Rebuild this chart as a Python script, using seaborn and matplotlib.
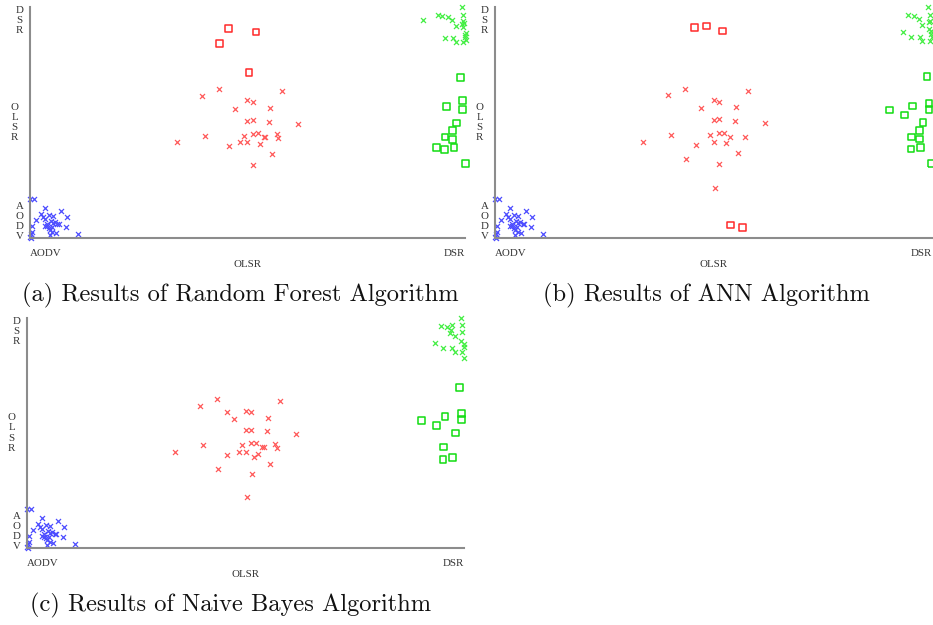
import numpy as np
import pandas as pd
import matplotlib
matplotlib.use("Agg")
import matplotlib.pyplot as plt
import seaborn as sns

# Weka-style classifier error plots: x = actual protocol, y = predicted (jittered)
classes = ["AODV", "OLSR", "DSR"]

# AODV points (correct), same in all three panels
aodv_x = [0.0, 0.02, 0.069, 0.143, 0.049, 0.089, 0.104, 0.06, 0.069, 0.028, 0.169, 0.095,
          0.115, 0.126, 0.132, 0.107, 0.067, 0.08, 0.089, 0.1, 0.166, 0.009, 0.092, 0.103,
          0.118, 0.008, 0.003, 0.092, 0.221, 0.0, 0.003, 0.077]
aodv_y = [0.34, 0.337, 0.262, 0.233, 0.21, 0.196, 0.19, 0.184, 0.167, 0.153, 0.184, 0.144,
          0.135, 0.124, 0.124, 0.127, 0.104, 0.1, 0.086, 0.092, 0.095, 0.104, 0.072, 0.049,
          0.046, 0.052, 0.035, 0.026, 0.032, 0.009, 0.0, 0.124]

# (a) Random Forest
rf_olsr_x = [0.869, 0.789, 1.159, 0.999, 1.024, 0.944, 1.103, 0.999, 1.024, 1.099, 1.234, 0.806, 0.984,
             1.024, 1.047, 1.077, 1.080, 1.134, 1.142, 0.676, 0.967, 0.999, 0.916, 1.059, 1.111, 1.027]
rf_olsr_y = [1.289, 1.232, 1.269, 1.191, 1.174, 1.117, 1.125, 1.016, 1.024, 1.007, 0.987, 0.886, 0.886,
             0.904, 0.909, 0.878, 0.872, 0.904, 0.866, 0.829, 0.829, 0.829, 0.8, 0.814, 0.728, 0.636]
rf_olsr_err_x = [0.913, 1.039, 0.872, 1.007]
rf_olsr_err_y = [1.816, 1.784, 1.681, 1.433]
rf_dsr_x = [1.985, 1.992, 1.874, 1.894, 1.922, 1.942, 1.808, 1.991, 1.995, 1.985, 1.957, 1.989, 2.005,
            2.002, 1.998, 1.906, 1.943, 1.959, 1.992, 2.005]
rf_dsr_y = [2.0, 1.928, 1.928, 1.922, 1.917, 1.888, 1.888, 1.876, 1.865, 1.856, 1.836, 1.827, 1.776,
            1.758, 1.741, 1.729, 1.735, 1.698, 1.701, 1.718]
rf_dsr_err_x = [1.98, 1.989, 1.914, 1.989, 1.962, 1.943, 1.908, 1.943, 1.87, 1.905, 1.949, 2.002]
rf_dsr_err_y = [1.39, 1.188, 1.137, 1.111, 0.996, 0.929, 0.875, 0.852, 0.783, 0.765, 0.783, 0.645]

# (b) ANN
ann_olsr_x = [0.870, 0.791, 1.157, 1.0, 1.023, 0.944, 1.102, 1.0, 1.023, 1.099, 1.234, 0.806, 0.983,
              1.023, 1.046, 1.075, 1.142, 0.676, 1.0, 1.058, 0.918, 1.110, 0.873, 1.026, 1.008]
ann_olsr_y = [1.293, 1.238, 1.276, 1.195, 1.180, 1.123, 1.131, 1.022, 1.027, 1.013, 0.993, 0.892, 0.892,
              0.906, 0.912, 0.877, 0.872, 0.834, 0.834, 0.820, 0.805, 0.733, 0.681, 0.641, 0.436]
ann_olsr_err_x = [0.913, 0.968, 1.040, 1.078, 1.134]
ann_olsr_err_y = [1.821, 1.835, 1.792, 0.113, 0.092]
ann_dsr_x = [1.982, 1.989, 1.892, 1.919, 1.940, 1.989, 1.985, 1.956, 1.986, 1.869, 1.902, 1.944,
             1.956, 1.989, 1.997, 2.0, 1.995]
ann_dsr_y = [2.0, 1.934, 1.928, 1.922, 1.893, 1.879, 1.873, 1.844, 1.807, 1.786, 1.737, 1.740,
             1.709, 1.709, 1.769, 1.740, 1.795]
ann_dsr_err_x = [1.977, 1.806, 1.873, 1.911, 1.986, 1.986, 1.959, 1.942, 1.907, 1.942, 1.947, 1.904, 1.995]
ann_dsr_err_y = [1.397, 1.108, 1.065, 1.143, 1.166, 1.114, 1.001, 0.932, 0.874, 0.857, 0.785, 0.771, 0.647]

# (c) Naive Bayes
nb_olsr_x = [0.870, 0.790, 1.159, 1.001, 1.025, 0.914, 0.946, 1.103, 1.001, 1.025, 1.098, 1.233, 0.807,
             0.984, 1.025, 1.048, 1.077, 1.083, 1.135, 1.143, 0.676, 0.969, 1.001, 0.917, 1.059, 1.040,
             1.112, 0.874, 1.028, 1.007]
nb_olsr_y = [1.296, 1.238, 1.275, 1.194, 1.180, 1.180, 1.122, 1.130, 1.023, 1.029, 1.014, 0.994, 0.893,
             0.893, 0.910, 0.916, 0.881, 0.875, 0.904, 0.870, 0.835, 0.838, 0.838, 0.806, 0.820, 0.791,
             0.733, 0.684, 0.641, 0.441]
nb_dsr_x = [1.985, 1.991, 1.893, 1.921, 1.945, 1.942, 1.934, 1.957, 1.989, 1.988, 1.998, 2.0, 1.867,
            1.904, 1.945, 1.957, 1.992, 1.998]
nb_dsr_y = [2.0, 1.936, 1.928, 1.922, 1.936, 1.893, 1.872, 1.843, 1.878, 1.803, 1.774, 1.748, 1.786,
            1.736, 1.742, 1.704, 1.707, 1.652]
nb_dsr_err_x = [1.980, 1.806, 1.873, 1.913, 1.988, 1.989, 1.960, 1.908, 1.904, 1.947]
nb_dsr_err_y = [1.397, 1.110, 1.067, 1.145, 1.168, 1.119, 1.0, 0.878, 0.771, 0.786]

captions = ["(a) Results of Random Forest Algorithm",
            "(b) Results of ANN Algorithm",
            "(c) Results of Naive Bayes Algorithm"]

BLUE = "#4d4dff"
RED_X = "#ff5a5a"
RED_SQ = "#ff2a2a"
GREEN_X = "#44ee44"
GREEN_SQ = "#11dd11"
AXIS_GRAY = "#8c8c8c"
TICK_FONT = dict(family="Liberation Serif", size=7.8, color="#333333")

sns.set_style("white")


def panel(ax, olsr, dsr, olsr_err, dsr_err):
    kw = dict(ax=ax, clip_on=False, legend=False)
    sns.scatterplot(x=aodv_x, y=aodv_y, marker="x", s=13, linewidth=0.9, color=BLUE, **kw)
    sns.scatterplot(x=olsr[0], y=olsr[1], marker="x", s=13, linewidth=0.9, color=RED_X, **kw)
    sns.scatterplot(x=dsr[0], y=dsr[1], marker="x", s=13, linewidth=0.9, color=GREEN_X, **kw)
    if olsr_err is not None:
        sns.scatterplot(x=olsr_err[0], y=olsr_err[1], marker="s", s=24, linewidth=1.1,
                        color=RED_SQ, facecolor="none", edgecolor=RED_SQ, **kw)
    sns.scatterplot(x=dsr_err[0], y=dsr_err[1], marker="s", s=24, linewidth=1.1,
                    color=GREEN_SQ, facecolor="none", edgecolor=GREEN_SQ, **kw)

    ax.set_xlim(0, 2)
    ax.set_ylim(0, 2)
    for side in ["top", "right"]:
        ax.spines[side].set_visible(False)
    for side in ["left", "bottom"]:
        ax.spines[side].set_color(AXIS_GRAY)
        ax.spines[side].set_linewidth(1.5)
    ax.set_xticks([1, 2])
    ax.set_yticks([1, 2])
    ax.set_xticklabels([])
    ax.set_yticklabels([])
    ax.tick_params(length=3, width=1, color="#333333", direction="out")
    ax.set_xlabel("")
    ax.set_ylabel("")

    # Weka style axis labels
    ax.annotate(classes[0], (0, 0), xycoords="data", xytext=(0, -11), textcoords="offset points",
                ha="left", va="center", **TICK_FONT, annotation_clip=False)
    ax.annotate(classes[1], (1, 0), xycoords="data", xytext=(0, -19), textcoords="offset points",
                ha="center", va="center", **TICK_FONT, annotation_clip=False)
    ax.annotate(classes[2], (2, 0), xycoords="data", xytext=(0, -11), textcoords="offset points",
                ha="right", va="center", **TICK_FONT, annotation_clip=False)
    ax.annotate("\n".join(classes[2]), (0, 2), xycoords="data", xytext=(-7.5, 1), textcoords="offset points",
                ha="center", va="top", linespacing=1.15, **TICK_FONT, annotation_clip=False)
    ax.annotate("\n".join(classes[1]), (0, 1), xycoords="data", xytext=(-11, 0), textcoords="offset points",
                ha="center", va="center", linespacing=1.15, **TICK_FONT, annotation_clip=False)
    ax.annotate("\n".join(classes[0]), (0, 0), xycoords="data", xytext=(-7.5, -2), textcoords="offset points",
                ha="center", va="bottom", linespacing=1.15, **TICK_FONT, annotation_clip=False)


W, H = 933, 625
fig = plt.figure(figsize=(W / 100, H / 100), dpi=100)


def box(l, t, r, b):
    return [l / W, 1 - b / H, (r - l) / W, (b - t) / H]


ax_a = fig.add_axes(box(30, 7, 465, 238))
ax_b = fig.add_axes(box(495, 7, 932, 238))
ax_c = fig.add_axes(box(27, 318, 464, 548))

panel(ax_a, (rf_olsr_x, rf_olsr_y), (rf_dsr_x, rf_dsr_y),
      (rf_olsr_err_x, rf_olsr_err_y), (rf_dsr_err_x, rf_dsr_err_y))
panel(ax_b, (ann_olsr_x, ann_olsr_y), (ann_dsr_x, ann_dsr_y),
      (ann_olsr_err_x, ann_olsr_err_y), (ann_dsr_err_x, ann_dsr_err_y))
panel(ax_c, (nb_olsr_x, nb_olsr_y), (nb_dsr_x, nb_dsr_y),
      None, (nb_dsr_err_x, nb_dsr_err_y))

cap_font = dict(family="cmr10", size=17.6, color="#111111", va="center", ha="center")
fig.text(240 / W, 1 - 295 / H, captions[0], **cap_font)
fig.text(706 / W, 1 - 295 / H, captions[1], **cap_font)
fig.text(231 / W, 1 - 605 / H, captions[2], **cap_font)

fig.savefig("out.png", dpi=100)
